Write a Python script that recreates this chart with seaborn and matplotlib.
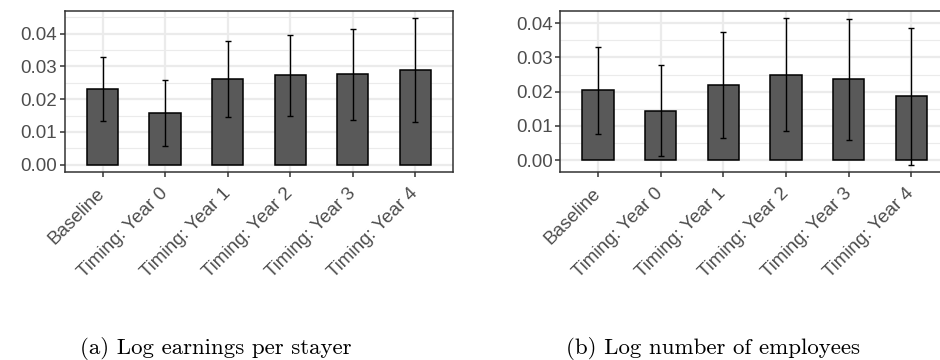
import numpy as np
import pandas as pd
import matplotlib
matplotlib.use("Agg")
import matplotlib.pyplot as plt
from matplotlib.ticker import MultipleLocator, FormatStrFormatter
import seaborn as sns

# Specifications shown on the x axis
categories = ["Baseline", "Timing: Year 0", "Timing: Year 1",
              "Timing: Year 2", "Timing: Year 3", "Timing: Year 4"]

# (a) Log earnings per stayer: point estimates and 95% CI bounds
earn_est = [0.0231, 0.0158, 0.0263, 0.0273, 0.0276, 0.0289]
earn_lo = [0.0133, 0.0058, 0.0146, 0.0148, 0.0137, 0.0130]
earn_hi = [0.0329, 0.0258, 0.0379, 0.0396, 0.0414, 0.0447]

# (b) Log number of employees: point estimates and 95% CI bounds
emp_est = [0.0205, 0.0144, 0.0220, 0.0250, 0.0236, 0.0186]
emp_lo = [0.0077, 0.0012, 0.0066, 0.0086, 0.0059, -0.0013]
emp_hi = [0.0331, 0.0277, 0.0374, 0.0414, 0.0412, 0.0385]

y_ticks = [0.00, 0.01, 0.02, 0.03, 0.04]

captions = ["(a) Log earnings per stayer", "(b) Log number of employees"]

sns.set_theme(style="white")
plt.rcParams["font.family"] = ["Liberation Sans", "DejaVu Sans"]

fig = plt.figure(figsize=(9.4, 3.6), dpi=100)
ax_a = fig.add_axes([0.0691, 0.5222, 0.4128, 0.4472])
ax_b = fig.add_axes([0.5961, 0.5222, 0.4135, 0.4472])

GRID = "#EBEBEB"
BORDER = "#333333"
TEXT = "#4D4D4D"


def draw_panel(ax, est, lo, hi):
    df = pd.DataFrame({"spec": categories, "est": est, "lo": lo, "hi": hi})
    sns.barplot(data=df, x="spec", y="est", ax=ax, width=0.5,
                color="#595959", saturation=1, edgecolor="black",
                linewidth=1.1, errorbar=None, zorder=3)
    pos = np.arange(len(df))
    ax.errorbar(pos, df["est"],
                yerr=[df["est"] - df["lo"], df["hi"] - df["est"]],
                fmt="none", ecolor="black", elinewidth=1.0,
                capsize=1.9, capthick=1.0, zorder=4)

    # ggplot-style 5% expansion around the data range (bars start at 0)
    ymin = min(0.0, df["lo"].min())
    ymax = max(0.0, df["hi"].max())
    pad = 0.05 * (ymax - ymin)
    ax.set_ylim(ymin - pad, ymax + pad)
    ax.set_xlim(-0.6, len(df) - 0.4)

    ax.set_yticks(y_ticks)
    ax.yaxis.set_major_formatter(FormatStrFormatter("%.2f"))
    ax.yaxis.set_minor_locator(MultipleLocator(0.005))
    ax.set_axisbelow(True)
    ax.grid(which="major", axis="both", color=GRID, linewidth=1.6, zorder=0)
    ax.grid(which="minor", axis="y", color=GRID, linewidth=0.8, zorder=0)

    for s in ax.spines.values():
        s.set_visible(True)
        s.set_color(BORDER)
        s.set_linewidth(1.1)

    ax.tick_params(axis="both", which="major", direction="out", length=3.5,
                   width=1.1, color=BORDER, labelcolor=TEXT, labelsize=13.5,
                   bottom=True, left=True)
    ax.tick_params(axis="y", which="major", pad=2)
    ax.tick_params(axis="x", which="major", pad=10)
    ax.tick_params(axis="both", which="minor", length=0)
    for lab in ax.get_xticklabels():
        lab.set_rotation(45)
        lab.set_ha("right")
        lab.set_va("center")
        lab.set_rotation_mode("anchor")
    ax.set_xlabel("")
    ax.set_ylabel("")


draw_panel(ax_a, earn_est, earn_lo, earn_hi)
draw_panel(ax_b, emp_est, emp_lo, emp_hi)

for xc, text in zip([216, 713], captions):
    fig.text(xc / 940, 1 - 354 / 360, text, ha="center", va="baseline",
             fontsize=16.5, family=["cmr10", "DejaVu Serif"], color="black")

fig.savefig("out.png", dpi=100, facecolor="white")
